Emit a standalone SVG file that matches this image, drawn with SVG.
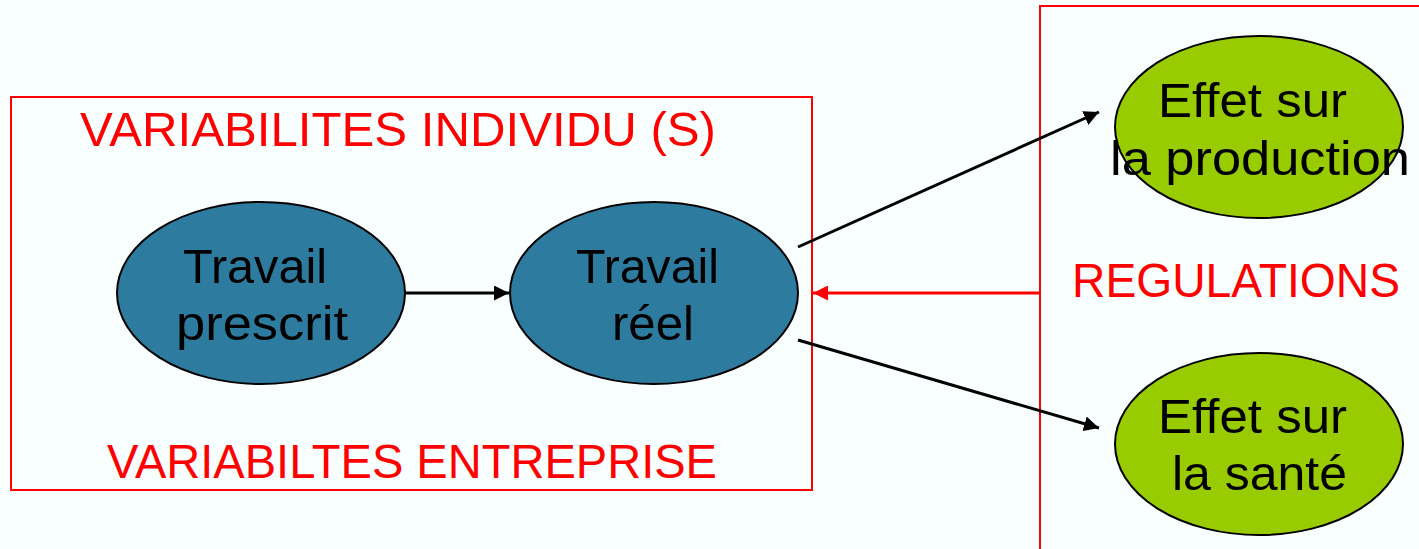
<svg xmlns="http://www.w3.org/2000/svg" width="1419" height="549" viewBox="0 0 1419 549">
<defs>
<style>
.box{fill:none;stroke:#ff0000;stroke-width:2}
.lbl{font-family:"Liberation Sans",Arial,sans-serif;font-size:48px;fill:#ff0000;text-anchor:middle}
.txt{font-family:"Liberation Sans",Arial,sans-serif;font-size:48px;fill:#000;text-anchor:middle}
.blue{fill:#2e7ba0;stroke:#000;stroke-width:2}
.green{fill:#99cc00;stroke:#000;stroke-width:2}
.conn{stroke:#000;stroke-width:3;fill:none}
.red{stroke:#ff0000;stroke-width:3;fill:none}
</style>
<marker id="ab" viewBox="0 0 10 10" refX="10" refY="5" markerWidth="5" markerHeight="5" orient="auto" markerUnits="strokeWidth"><path d="M0,0 L10,5 L0,10 z" fill="#000"/></marker>
<marker id="ar" viewBox="0 0 10 10" refX="10" refY="5" markerWidth="5" markerHeight="5" orient="auto" markerUnits="strokeWidth"><path d="M0,0 L10,5 L0,10 z" fill="#ff0000"/></marker>
</defs>
<rect width="1419" height="549" fill="#f9fefe"/>
<g id="box-individu"><rect class="box" x="11" y="97" width="801" height="393"/>
<text class="lbl" x="398" y="146" textLength="636" lengthAdjust="spacingAndGlyphs">VARIABILITES INDIVIDU (S)</text>
<text class="lbl" x="412" y="478" textLength="610" lengthAdjust="spacingAndGlyphs">VARIABILTES ENTREPRISE</text></g>
<g id="box-regulations"><rect class="box" x="1040" y="6" width="400" height="560"/>
<text class="lbl" x="1236" y="297" textLength="328" lengthAdjust="spacingAndGlyphs">REGULATIONS</text></g>
<g id="connectors">
<line class="conn" x1="405" y1="293" x2="509" y2="293" marker-end="url(#ab)"/>
<line class="conn" x1="798" y1="247" x2="1099" y2="112" marker-end="url(#ab)"/>
<line class="conn" x1="798" y1="340" x2="1099" y2="428" marker-end="url(#ab)"/>
<line class="red" x1="1040" y1="293" x2="813" y2="293" marker-end="url(#ar)"/>
</g>
<g id="travail-prescrit"><ellipse class="blue" cx="261" cy="293" rx="144" ry="91"/>
<text class="txt" x="255" y="283" textLength="144" lengthAdjust="spacingAndGlyphs">Travail</text><text class="txt" x="262" y="340" textLength="172" lengthAdjust="spacingAndGlyphs">prescrit</text></g>
<g id="travail-reel"><ellipse class="blue" cx="654" cy="293" rx="144" ry="91"/>
<text class="txt" x="647.5" y="283" textLength="143" lengthAdjust="spacingAndGlyphs">Travail</text><text class="txt" x="653" y="340" textLength="82" lengthAdjust="spacingAndGlyphs">réel</text></g>
<g id="effet-production"><ellipse class="green" cx="1259" cy="127" rx="144" ry="91"/>
<text class="txt" x="1252.5" y="117" textLength="189" lengthAdjust="spacingAndGlyphs">Effet sur</text><text class="txt" x="1260" y="175" textLength="300" lengthAdjust="spacingAndGlyphs">la production</text></g>
<g id="effet-sante"><ellipse class="green" cx="1259" cy="444" rx="144" ry="91"/>
<text class="txt" x="1252.5" y="433" textLength="189" lengthAdjust="spacingAndGlyphs">Effet sur</text><text class="txt" x="1259.5" y="490" textLength="175" lengthAdjust="spacingAndGlyphs">la santé</text></g>
</svg>
